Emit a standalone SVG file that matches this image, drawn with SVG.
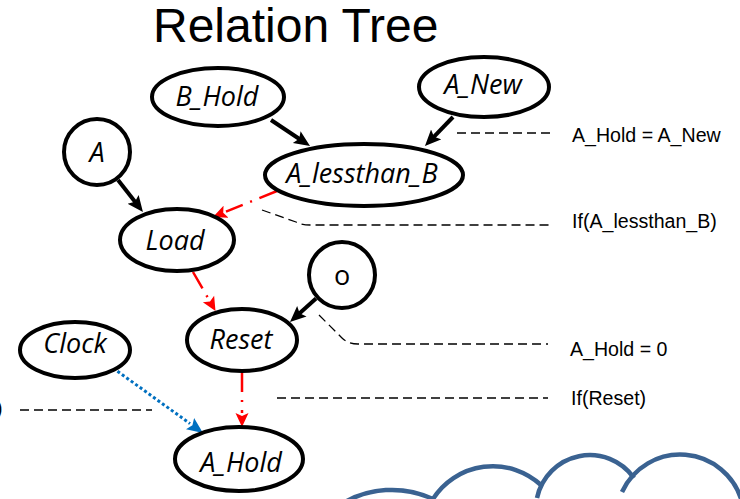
<svg xmlns="http://www.w3.org/2000/svg" width="740" height="499" viewBox="0 0 740 499">
  <style>
    .node { fill: #ffffff; stroke: #000000; stroke-width: 4; }
    .lbl { font-family: "Open Sans", "Noto Sans", sans-serif; font-style: italic; font-size: 27px; fill: #000000; text-anchor: middle; }
    .note { font-family: "Liberation Sans", Arial, sans-serif; font-size: 19.6px; fill: #000000; }
    .title { font-family: "Liberation Sans", Arial, sans-serif; font-size: 48px; fill: #000000; }
    .solid { stroke: #000000; stroke-width: 4; fill: none; marker-end: url(#headBlack); }
    .ctrl { stroke: #ff0000; stroke-width: 2.5; fill: none; stroke-dasharray: 19 8 2 8; marker-end: url(#headRed); }
    .clk { stroke: #0070c0; stroke-width: 3; fill: none; stroke-dasharray: 3 2.5; marker-end: url(#headBlue); }
    .leader { stroke: #000000; stroke-width: 1.3; fill: none; stroke-dasharray: 9 5; }
    .cloud { stroke: #3a6291; stroke-width: 4.5; fill: none; }
  </style>
  <defs>
    <marker id="headBlack" markerUnits="userSpaceOnUse" viewBox="0 0 16 16" markerWidth="16" markerHeight="16" refX="6" refY="8" orient="auto">
      <path d="M0,1 L16,8 L0,15 L3,8 z" fill="#000000"/>
    </marker>
    <marker id="headRed" markerUnits="userSpaceOnUse" viewBox="0 0 14 14" markerWidth="14" markerHeight="14" refX="0" refY="7" orient="auto">
      <path d="M0,0.5 L14,7 L0,13.5 L3,7 z" fill="#ff0000"/>
    </marker>
    <marker id="headBlue" markerUnits="userSpaceOnUse" viewBox="0 0 16 16" markerWidth="16" markerHeight="16" refX="0" refY="8" orient="auto">
      <path d="M0,1 L16,8 L0,15 L3,8 z" fill="#0070c0"/>
    </marker>
  </defs>

  <text class="title" x="153" y="42">Relation Tree</text>

  <!-- connectors -->
  <g id="connectors">
    <line class="solid" x1="271" y1="120" x2="301.7" y2="140.5"/>
    <line class="solid" x1="453" y1="117" x2="431.9" y2="138.8"/>
    <line class="solid" x1="118" y1="180" x2="136.8" y2="204.1"/>
    <line class="solid" x1="316" y1="298.5" x2="297.4" y2="315.3"/>
    <line class="ctrl" x1="277" y1="191" x2="226" y2="211.7"/>
    <line class="ctrl" x1="193" y1="272" x2="208.5" y2="298.9"/>
    <line class="ctrl" x1="242" y1="373" x2="242" y2="413"/>
    <line class="clk" x1="113" y1="368" x2="190" y2="423.6"/>
  </g>

  <!-- annotation leaders -->
  <g id="annotations">
    <line class="leader" x1="457" y1="133" x2="550" y2="133"/>
    <path class="leader" d="M262,210 L296,222 Q302,225 310,225 L550,225"/>
    <path class="leader" d="M319,315 L342,338 Q348,344 358,344 L548,344"/>
    <line class="leader" x1="277" y1="398" x2="548" y2="398"/>
    <line class="leader" x1="20" y1="410" x2="152" y2="410"/>
    <text class="note" x="572" y="142">A_Hold = A_New</text>
    <text class="note" x="572" y="228">If(A_lessthan_B)</text>
    <text class="note" x="570" y="356">A_Hold = 0</text>
    <text class="note" x="571" y="405">If(Reset)</text>
    <text class="note" x="-4" y="415">)</text>
  </g>

  <g id="B_Hold">
    <ellipse class="node" cx="218" cy="97" rx="66" ry="29"/>
    <text class="lbl" x="217" y="106">B_Hold</text>
  </g>
  <g id="A_New">
    <ellipse class="node" cx="484" cy="87" rx="65" ry="30"/>
    <text class="lbl" x="483" y="94">A_New</text>
  </g>
  <g id="A_lessthan_B">
    <ellipse class="node" cx="364" cy="175" rx="99" ry="31"/>
    <text class="lbl" x="362" y="183">A_lessthan_B</text>
  </g>
  <g id="A">
    <circle class="node" cx="97" cy="152" r="33"/>
    <text class="lbl" x="97" y="162">A</text>
  </g>
  <g id="Load">
    <ellipse class="node" cx="177" cy="240" rx="57" ry="31"/>
    <text class="lbl" x="175" y="250">Load</text>
  </g>
  <g id="O">
    <circle class="node" cx="342" cy="275" r="33"/>
    <text class="lbl" x="342" y="285" style="font-style: normal">o</text>
  </g>
  <g id="Reset">
    <ellipse class="node" cx="242" cy="340" rx="55" ry="31"/>
    <text class="lbl" x="241" y="349">Reset</text>
  </g>
  <g id="Clock">
    <ellipse class="node" cx="75" cy="350" rx="55" ry="28"/>
    <text class="lbl" x="75" y="353">Clock</text>
  </g>
  <g id="A_Hold">
    <ellipse class="node" cx="239" cy="459" rx="64" ry="32"/>
    <text class="lbl" x="241" y="472">A_Hold</text>
  </g>

  <!-- cloud outline along the bottom edge -->
  <g id="cloud">
    <path class="cloud" d="M340,505 A97,97 0 0 1 433,499"/>
    <path class="cloud" d="M433,499 A71,71 0 0 1 541,485"/>
    <path class="cloud" d="M537,498 A54,54 0 0 1 634,478"/>
    <path class="cloud" d="M622,492 A64,64 0 0 1 742,502"/>
  </g>
</svg>
